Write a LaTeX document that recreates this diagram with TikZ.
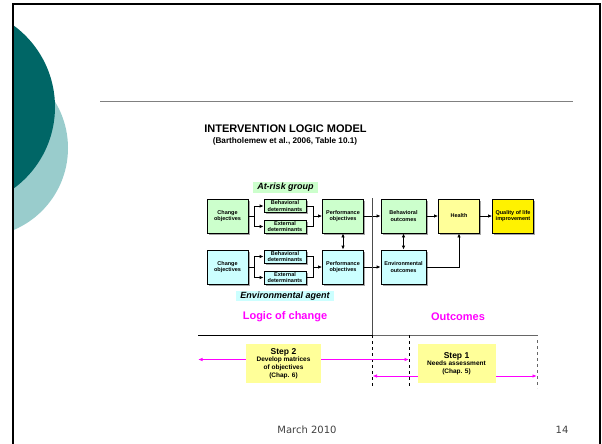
\documentclass[tikz,border=0pt]{standalone}
\usepackage{fontspec}
\setmainfont{Liberation Sans}
\newfontfamily\footfont{DejaVu Sans}
\usepackage{tikz}
\usetikzlibrary{shapes,arrows.meta,shadows}
\definecolor{darkteal}{RGB}{0,102,102}
\definecolor{lightteal}{RGB}{153,204,204}
\definecolor{riskgreen}{RGB}{204,255,204}
\definecolor{envcyan}{RGB}{204,255,255}
\definecolor{paleyellow}{RGB}{255,255,153}
\definecolor{stepmagenta}{RGB}{255,0,255}

\begin{document}
\begin{tikzpicture}[x=1pt, y=-1pt,
    objbox/.style={draw, line width=0.8pt, rectangle, minimum width=41pt, minimum height=34pt, inner sep=1pt, align=center,
        font=\bfseries\fontsize{5.5}{6.7}\selectfont,
        drop shadow={shadow xshift=1.5pt, shadow yshift=-1.5pt, fill=gray!70, opacity=1}},
    detbox/.style={objbox, minimum width=42pt, minimum height=13pt},
    stepbox/.style={rectangle, fill=paleyellow, minimum width=75pt, minimum height=39pt, inner sep=1pt, align=center,
        font=\bfseries\fontsize{6.5}{7.7}\selectfont},
    grouplabel/.style={inner xsep=4pt, inner ysep=1pt, font=\bfseries\itshape\fontsize{9}{9}\selectfont},
    phase/.style={text=stepmagenta, font=\bfseries\fontsize{11}{11}\selectfont},
    link/.style={line width=0.8pt},
    arrow/.style={link, -{Latex[length=4pt,width=3.5pt]}},
    dblarrow/.style={link, {Latex[length=4pt,width=3.5pt]}-{Latex[length=4pt,width=3.5pt]}},
    steparrow/.style={stepmagenta, line width=0.9pt, {Latex[length=4.5pt,width=3.5pt]}-{Latex[length=4.5pt,width=3.5pt]}}
]
\useasboundingbox (0,0) rectangle (602,444);

% Slide decoration
\begin{scope}
\clip (13,4) rectangle (600,444);
\fill[lightteal] (-21,148) circle (89);
\fill[darkteal] (-46,107) circle (101);
\end{scope}
\draw[line width=2pt] (13,444) -- (13,4) -- (600,4) -- (600,444);
\draw[gray, line width=1.2pt] (100,101.5) -- (573,101.5);

% Title
\node (title) at (285.5,129) {\bfseries\fontsize{11}{11}\selectfont INTERVENTION LOGIC MODEL};
\node (source) at (285,141) {\bfseries\fontsize{8.2}{8.2}\selectfont (Bartholemew et al., 2006, Table 10.1)};
\node[grouplabel, fill=riskgreen] (risk) at (285.5,187.5) {At-risk group};
\node[grouplabel, fill=envcyan] (env) at (285,296) {Environmental agent};

% At-risk group row
\node[objbox, fill=riskgreen] (chgA) at (227.5,216) {Change\\objectives};
\node[detbox, fill=riskgreen] (behA) at (285,206) {Behavioral\\determinants};
\node[detbox, fill=riskgreen] (extA) at (285,226.5) {External\\determinants};
\node[objbox, fill=riskgreen] (perfA) at (343,216) {Performance\\objectives};

% Environmental agent row
\node[objbox, fill=envcyan] (chgB) at (227.5,267) {Change\\objectives};
\node[detbox, fill=envcyan] (behB) at (285,256.5) {Behavioral\\determinants};
\node[detbox, fill=envcyan] (extB) at (285,277.5) {External\\determinants};
\node[objbox, fill=envcyan] (perfB) at (343,267) {Performance\\objectives};

% Outcomes
\node[objbox, fill=riskgreen, minimum width=45pt] (behOut) at (403.5,216) {Behavioral\\outcomes};
\node[objbox, fill=envcyan, minimum width=45pt] (envOut) at (403.5,267) {Environmental\\outcomes};
\node[objbox, fill=paleyellow] (health) at (459,216) {Health};
\node[objbox, fill=yellow] (qol) at (513,216) {Quality of life\\improvement};

% Branch points
\coordinate (splitA) at (254,216);
\coordinate (joinA) at (313,216);
\coordinate (splitB) at (254,267);
\coordinate (joinB) at (313,267);

% Connections
\draw[link] (chgA.east) -- (splitA);
\draw[arrow] (splitA) |- (behA.west);
\draw[arrow] (splitA) |- (extA.west);
\draw[link] (behA.east) -| (joinA);
\draw[link] (extA.east) -| (joinA);
\draw[arrow] (joinA) -- (perfA.west);
\draw[link] (chgB.east) -- (splitB);
\draw[arrow] (splitB) |- (behB.west);
\draw[arrow] (splitB) |- (extB.west);
\draw[link] (behB.east) -| (joinB);
\draw[link] (extB.east) -| (joinB);
\draw[arrow] (joinB) -- (perfB.west);
\draw[dblarrow] (perfA.south) -- (perfB.north);
\draw[arrow] (perfA.east) -- (behOut.west);
\draw[arrow] (perfB.east) -- (envOut.west);
\draw[dblarrow] (behOut.south) -- (envOut.north);
\draw[arrow] (behOut.east) -- (health.west);
\draw[arrow] (health.east) -- (qol.west);
\draw[arrow] (envOut.east) -| (health.south);

% Phases
\coordinate (divTop) at (372.5,198);
\coordinate (divMid) at (372.5,335);
\coordinate (divBot) at (372.5,386);
\coordinate (ruleL) at (198,335);
\coordinate (ruleR) at (538,335);
\coordinate (needTop) at (409,335);
\coordinate (needBot) at (409,386);
\coordinate (endTop) at (537,340);
\coordinate (endBot) at (537,388);
\draw[black!70, line width=1pt] (divTop) -- (divMid);
\draw[line width=1pt] (ruleL) -- (divMid);
\draw[black!60, line width=1pt] (divMid) -- (ruleR);
\draw[dashed, line width=0.7pt] (divMid) -- (divBot);
\draw[dashed, line width=0.7pt] (needTop) -- (needBot);
\draw[dashed, line width=0.7pt, black!60] (endTop) -- (endBot);
\node[phase] (logic) at (285,317) {Logic of change};
\node[phase] (outc) at (458,317) {Outcomes};

% Steps
\coordinate (s2L) at (198,359.5);
\coordinate (s2R) at (409,359.5);
\coordinate (s1L) at (372.5,376);
\coordinate (s1R) at (537,376);
\draw[steparrow] (s2L) -- (s2R);
\draw[steparrow] (s1L) -- (s1R);
\node[stepbox] (step2) at (283.5,363.5) {{\fontsize{8.5}{9}\selectfont Step 2}\\Develop matrices\\of objectives\\(Chap. 6)};
\node[stepbox, minimum width=78pt] (step1) at (456.5,363.5) {{\fontsize{8.5}{9}\selectfont Step 1}\\Needs assessment\\(Chap. 5)};

% Footer
\node[text=black!75, font=\footfont\fontsize{10}{10}\selectfont] (date) at (307,430) {March 2010};
\node[text=black!75, font=\footfont\fontsize{10}{10}\selectfont] (page) at (562,430) {14};

\end{tikzpicture}
\end{document}
